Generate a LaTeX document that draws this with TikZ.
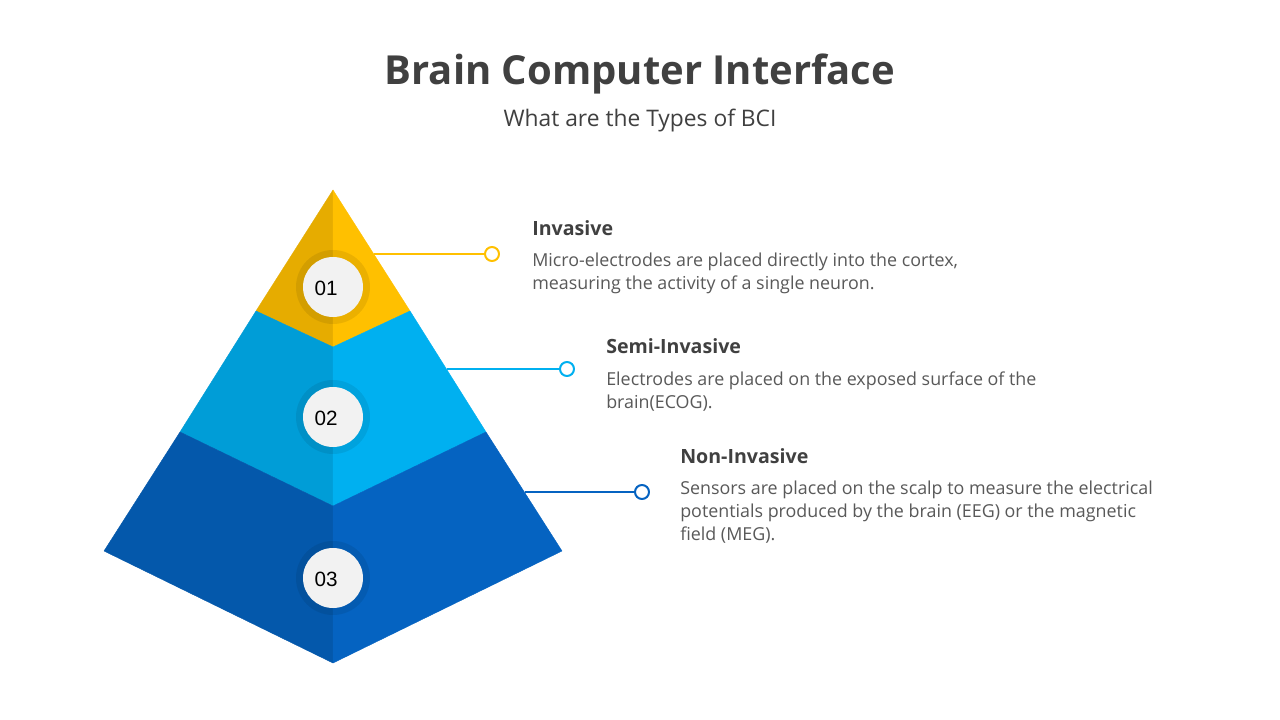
\documentclass[tikz,border=0pt]{standalone}
\usepackage{fontspec}
\setmainfont{Open Sans}
\newfontfamily\numfont{Liberation Sans}
\usepackage{tikz}
\definecolor{goldR}{HTML}{FFC000}
\definecolor{goldL}{HTML}{E6AC00}
\definecolor{skyR}{HTML}{00B0F0}
\definecolor{skyL}{HTML}{009DD7}
\definecolor{navyR}{HTML}{0563C1}
\definecolor{navyL}{HTML}{0458AB}
\definecolor{txtdark}{HTML}{404040}
\definecolor{txtbody}{HTML}{595959}
\definecolor{discgray}{HTML}{F2F2F2}
\tikzstyle{ring} = [circle, fill=black, fill opacity=0.08, minimum size=55.5pt, inner sep=0pt]
\tikzstyle{numdisc} = [circle, fill=discgray, minimum size=45pt, inner sep=0pt]
\tikzstyle{num} = [inner sep=0pt, font=\numfont\fontsize{15.5}{18}\selectfont, text=black]
\tikzstyle{dot} = [circle, draw, fill=white, line width=1.5pt, minimum size=10.5pt, inner sep=0pt]
\tikzstyle{link} = [line width=1.5pt]
\tikzstyle{head} = [anchor=base west, inner sep=0pt, font=\bfseries\fontsize{14.7}{18}\selectfont, text=txtdark]
\tikzstyle{body} = [anchor=north west, inner sep=0pt, align=left, font=\fontsize{13.4}{17.25}\selectfont, text=txtbody]

\begin{document}
\begin{tikzpicture}[x=0.75pt, y=-0.75pt, line join=round]
    % 画布
    \fill[white] (0,0) rectangle (1280,720);
    \useasboundingbox (0,0) rectangle (1280,720);

    % 标题
    \node [anchor=base, font=\bfseries\fontsize{30}{36}\selectfont, text=txtdark] (title) at (640,85) {Brain Computer Interface};
    \node [anchor=base, font=\fontsize{17.1}{21}\selectfont, text=txtdark] (subtitle) at (640,127) {What are the Types of BCI};

    % 金字塔
    \filldraw [goldL, line width=0.3pt] (333,190) -- (256,311) -- (333,347) -- cycle;
    \filldraw [goldR, line width=0.3pt] (333,190) -- (333,347) -- (410,311) -- cycle;
    \filldraw [skyL, line width=0.3pt] (256,311) -- (180,432) -- (333,506) -- (333,347) -- cycle;
    \filldraw [skyR, line width=0.3pt] (410,311) -- (486,432) -- (333,506) -- (333,347) -- cycle;
    \filldraw [navyL, line width=0.3pt] (180,432) -- (104,551) -- (333,663) -- (333,506) -- cycle;
    \filldraw [navyR, line width=0.3pt] (486,432) -- (562,551) -- (333,663) -- (333,506) -- cycle;

    % 编号圆
    \node [ring] (ring1) at (333,287) {};
    \node [numdisc] (disc1) at (ring1) {};
    \node [num] (num1) at (326,288) {01};
    \node [ring] (ring2) at (333,417) {};
    \node [numdisc] (disc2) at (ring2) {};
    \node [num] (num2) at (326,418) {02};
    \node [ring] (ring3) at (333,578) {};
    \node [numdisc] (disc3) at (ring3) {};
    \node [num] (num3) at (326,579) {03};

    % 连线
    \coordinate (edge1) at (373.6,254);
    \coordinate (edge2) at (446.5,369);
    \coordinate (edge3) at (524.6,492);
    \node [dot, draw=goldR] (dot1) at (492,254) {};
    \node [dot, draw=skyR] (dot2) at (567,369) {};
    \node [dot, draw=navyR] (dot3) at (642,492) {};
    \draw [link, goldR] (edge1) -- (dot1);
    \draw [link, skyR] (edge2) -- (dot2);
    \draw [link, navyR] (edge3) -- (dot3);

    % 文字
    \node [head] (head1) at (532,235) {Invasive};
    \node [body] (text1) at (532,252.8) {Micro-electrodes are placed directly into the cortex,\\measuring the activity of a single neuron.};
    \node [head] (head2) at (606,353) {Semi-Invasive};
    \node [body] (text2) at (606,371.8) {Electrodes are placed on the exposed surface of the\\brain(ECOG).};
    \node [head] (head3) at (680,463) {Non-Invasive};
    \node [body] (text3) at (680,480.8) {Sensors are placed on the scalp to measure the electrical\\potentials produced by the brain (EEG) or the magnetic\\field (MEG).};
\end{tikzpicture}
\end{document}
